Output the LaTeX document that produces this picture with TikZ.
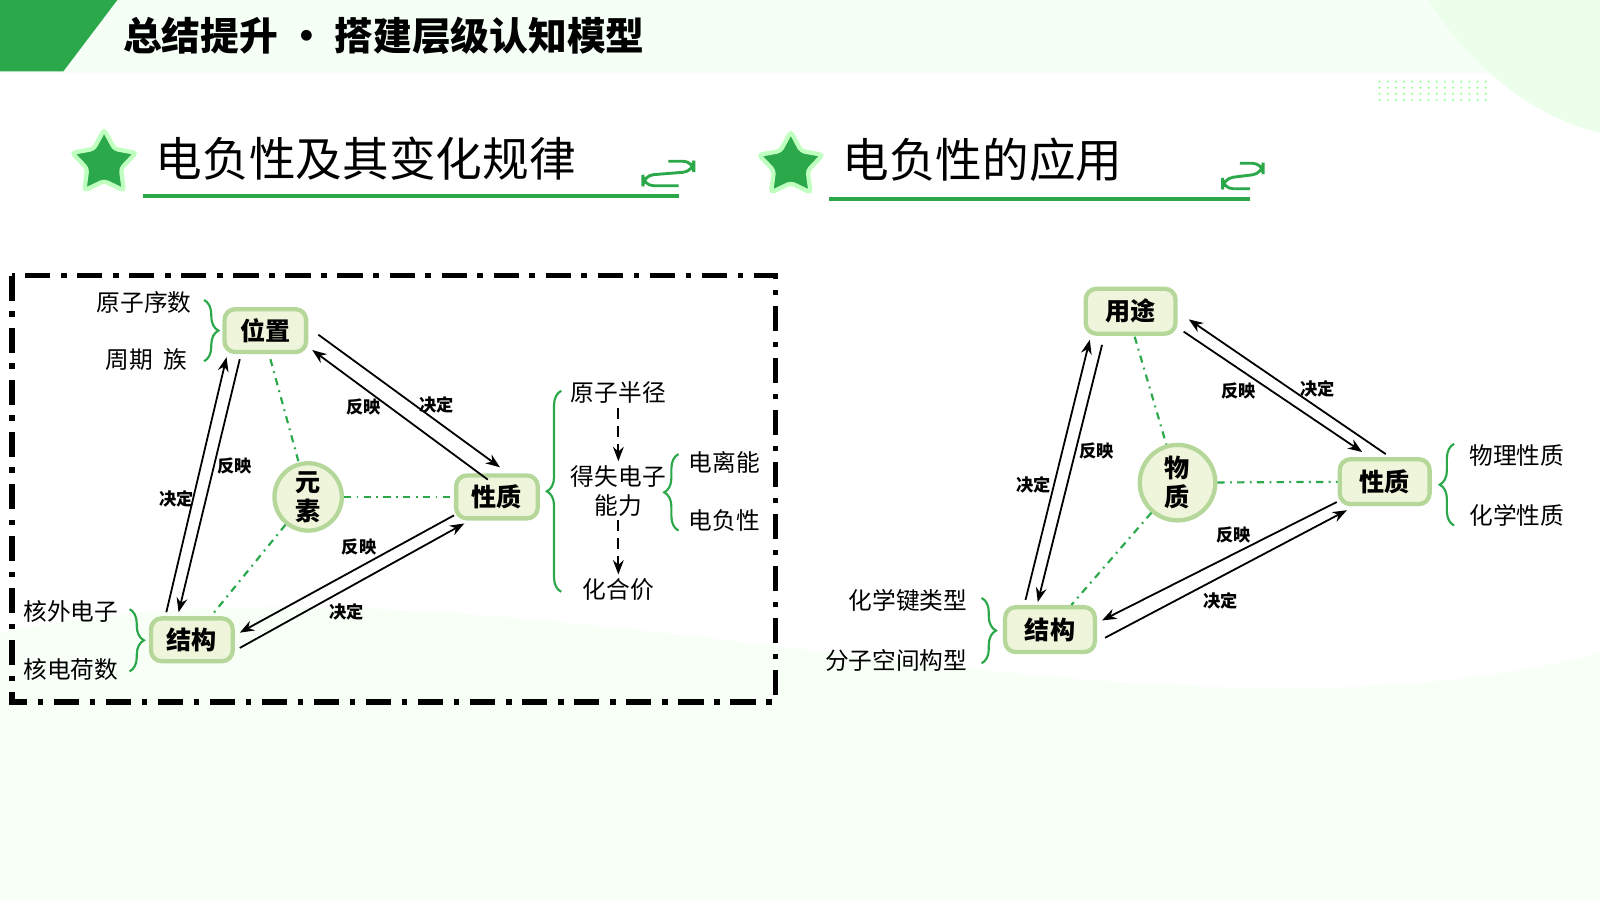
\documentclass[tikz,border=0pt]{standalone}
\usepackage{fontspec}
\setmainfont{Noto Sans CJK SC}
\usetikzlibrary{shapes.geometric,decorations.pathreplacing,arrows.meta}
\definecolor{gr}{HTML}{2BA84A}
\definecolor{nfill}{HTML}{EEF5DA}
\definecolor{nline}{HTML}{B5D89A}
\begin{document}
\begin{tikzpicture}[x=0.01cm,y=-0.01cm,
  box/.style={draw=nline,line width=1.2pt,fill=nfill,rounded corners=3pt,font=\fontsize{7pt}{8pt}\selectfont\bfseries,inner sep=0pt},
  circ/.style={circle,draw=nline,line width=1.2pt,fill=nfill,font=\fontsize{7pt}{8pt}\selectfont\bfseries,align=center,inner sep=0pt},
  lab/.style={font=\fontsize{6.6pt}{8pt}\selectfont,align=center,inner sep=1pt},
  sm/.style={font=\fontsize{4.8pt}{5pt}\selectfont\bfseries,inner sep=0pt},
  arr/.style={-{Stealth[length=4pt,width=3pt]},line width=0.5pt},
  dd/.style={gr,dash pattern=on 2pt off 1.5pt on 0.5pt off 1.5pt,line width=0.6pt},
  br/.style={decorate,decoration={brace,amplitude=4pt},line width=0.6pt,gr},
  ttl/.style={font=\fontsize{13pt}{14pt}\selectfont,anchor=west,inner sep=0pt},
  st/.style={star,star points=5,star point ratio=1.9,fill=gr,draw=green!25,line width=1.2pt,minimum size=0.66cm,inner sep=0pt,rounded corners=1pt}]
\useasboundingbox (0,0) rectangle (1568,882);
\fill[white] (0,0) rectangle (1568,882);
\fill[green!4] (0,0) rectangle (1568,72);
\fill[green!8] (1400,0) .. controls (1450,80) and (1520,120) .. (1568,130) -- (1568,0) -- cycle;
\fill[green!3] (0,620) .. controls (500,520) and (1100,760) .. (1568,640) -- (1568,882) -- (0,882) -- cycle;
\fill[gr] (0,0) -- (115,0) -- (62,70) -- (0,70) -- cycle;
\node[anchor=west,font=\fontsize{10.8pt}{11pt}\selectfont\bfseries,inner sep=0pt] (title) at (120,35) {总结提升 · 搭建层级认知模型};
\foreach \i in {0,...,3}{\foreach \j in {0,...,13}{\fill[green!40] (1352+\j*8,80+\i*6) circle (1.2);}}
% section titles
\node[st] (s1) at (102,160) {};
\node[st] (s2) at (775,162) {};
\node[ttl] (t1) at (152,155) {电负性及其变化规律};
\node[ttl] (t2) at (825,157) {电负性的应用};
\draw[gr,line width=1.2pt] (140,192) -- (665,192);
\draw[gr,line width=1.2pt] (812,195) -- (1225,195);
\draw[gr,line width=0.8pt,rounded corners=3pt] (655,158)--(680,158)--(680,168)--(630,172)--(630,182)--(665,182);
\draw[gr,line width=0.8pt,rounded corners=3pt] (1215,160)--(1238,160)--(1238,170)--(1198,175)--(1198,185)--(1225,185);
% dashed box
\draw[line width=1.6pt,dash pattern=on 7pt off 3pt on 1.5pt off 3pt] (12,270) rectangle (760,688);
% left diagram
\node[box,minimum width=0.8cm,minimum height=0.42cm] (wz) at (260,324) {位置};
\node[circ,minimum size=0.66cm] (ys) at (302,487) {元\\素};
\node[box,minimum width=0.8cm,minimum height=0.42cm] (xz) at (487,487) {性质};
\node[box,minimum width=0.8cm,minimum height=0.42cm] (jg) at (188,627) {结构};
\draw[arr] (312,328) -- (490,458);
\draw[arr] (478,470) -- (306,343);
\node[sm] (l1) at (356,399) {反映};
\node[sm] (l2) at (428,397) {决定};
\draw[arr] (235,352) -- (175,600);
\draw[arr] (163,600) -- (222,350);
\node[sm] (l3) at (230,457) {反映};
\node[sm] (l4) at (173,489) {决定};
\draw[arr] (445,505) -- (235,620);
\draw[arr] (235,635) -- (455,513);
\node[sm] (l5) at (352,536) {反映};
\node[sm] (l6) at (340,600) {决定};
\draw[dd] (265,352) -- (ys);
\draw[dd] (ys) -- (xz);
\draw[dd] (ys) -- (jg);
\node[lab,anchor=east] (a1) at (192,296) {原子序数};
\node[lab,anchor=east] (a2) at (188,352) {周期\ \ 族};
\draw[br] (200,294) -- (200,354);
\node[lab,anchor=east] (a3) at (120,599) {核外电子};
\node[lab,anchor=east] (a4) at (120,656) {核电荷数};
\draw[br] (127,597) -- (127,658);
\draw[br] (550,580) -- (550,383);
\node[lab] (r1) at (606,385) {原子半径};
\node[lab] (r2) at (606,481) {得失电子\\能力};
\node[lab] (r3) at (606,578) {化合价};
\draw[arr,densely dashed] (r1) -- (r2);
\draw[arr,densely dashed] (r2) -- (r3);
\draw[br] (665,520) -- (665,445);
\node[lab] (r4) at (710,453) {电离能};
\node[lab] (r5) at (710,510) {电负性};
% right diagram
\node[box,minimum width=0.88cm,minimum height=0.44cm] (yt) at (1108,305) {用途};
\node[circ,minimum size=0.74cm] (wzz) at (1154,473) {物\\质};
\node[box,minimum width=0.88cm,minimum height=0.44cm] (xz2) at (1357,472) {性质};
\node[box,minimum width=0.88cm,minimum height=0.44cm] (jg2) at (1029,617) {结构};
\draw[arr] (1160,325) -- (1335,443);
\draw[arr] (1358,445) -- (1165,313);
\node[sm] (m1) at (1214,383) {反映};
\node[sm] (m2) at (1291,381) {决定};
\draw[arr] (1080,338) -- (1017,590);
\draw[arr] (1005,588) -- (1068,333);
\node[sm] (m3) at (1075,442) {反映};
\node[sm] (m4) at (1013,475) {决定};
\draw[arr] (1310,492) -- (1080,608);
\draw[arr] (1083,625) -- (1320,500);
\node[sm] (m5) at (1209,524) {反映};
\node[sm] (m6) at (1196,589) {决定};
\draw[dd] (1112,330) -- (wzz);
\draw[dd] (wzz) -- (xz2);
\draw[dd] (wzz) -- (jg2);
\node[lab,anchor=east] (b1) at (952,588) {化学键类型};
\node[lab,anchor=east] (b2) at (952,647) {分子空间构型};
\draw[br] (962,586) -- (962,650);
\draw[br] (1425,515) -- (1425,435);
\node[lab,anchor=west] (b3) at (1436,446) {物理性质};
\node[lab,anchor=west] (b4) at (1436,505) {化学性质};
\end{tikzpicture}
\end{document}
